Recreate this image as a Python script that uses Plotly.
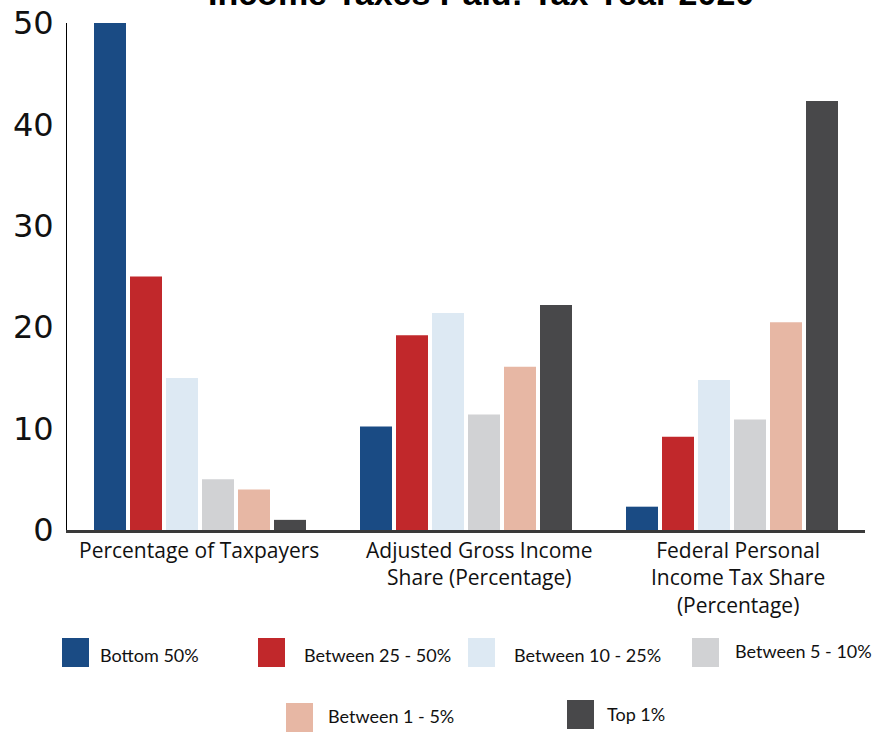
import plotly.graph_objects as go

categories = ["Percentage of Taxpayers", "Adjusted Gross Income<br>Share (Percentage)",
              "Federal Personal<br>Income Tax Share<br>(Percentage)"]
series_names = ["Bottom 50%", "Between 25 - 50%", "Between 10 - 25%",
                "Between 5 - 10%", "Between 1 - 5%", "Top 1%"]
bottom_50 = [50, 10.2, 2.3]
between_25_50 = [25, 19.2, 9.2]
between_10_25 = [15, 21.4, 14.8]
between_5_10 = [5, 11.4, 10.9]
between_1_5 = [4, 16.1, 20.5]
top_1 = [1, 22.2, 42.3]
series_values = [bottom_50, between_25_50, between_10_25, between_5_10, between_1_5, top_1]
colors = ["#1a4b84", "#c1282b", "#dde9f3", "#d1d2d4", "#e7b7a4", "#48484a"]
y_ticks = [0, 10, 20, 30, 40, 50]
title_text = "Income Taxes Paid: Tax Year 2020"

fig = go.Figure()
for name, vals, col in zip(series_names, series_values, colors):
    fig.add_trace(go.Bar(name=name, x=categories, y=vals, marker=dict(color=col, line=dict(width=0)),
                         showlegend=False))

# plot area geometry (pixels) for custom legend placement
W, H = 873, 735
L, R, T, B = 67, 8, 23, 205
pw, ph = W - L - R, H - T - B

def px(x):
    return (x - L) / pw

def py(y):
    return (H - B - y) / ph

# legend layout: (swatch_left, swatch_top, text_left, text_center_y)
legend_pos = [
    (62, 638, 98, 655),
    (258, 638, 302, 655),
    (468, 638, 512, 655),
    (692, 638, 733, 651),
    (286, 703, 326, 716),
    (567, 700, 605, 714),
]
shapes = []
annotations = []
for (sx, sy, tx, ty), name, col in zip(legend_pos, series_names, colors):
    shapes.append(dict(type="rect", xref="paper", yref="paper",
                       x0=px(sx), x1=px(sx + 27), y0=py(sy), y1=py(sy + 29),
                       fillcolor=col, line=dict(width=0)))
    annotations.append(dict(text=name, xref="paper", yref="paper", x=px(tx), y=py(ty),
                            xanchor="left", yanchor="middle", showarrow=False,
                            font=dict(family="Lato", size=18, color="#111111")))

# category labels (as annotations under each category, slight horizontal offsets)
label_shift = [-1, 13, 6]
for cat, sh in zip(categories, label_shift):
    annotations.append(dict(text=cat, xref="x", yref="paper", x=cat, y=0, xshift=sh, yshift=-4,
                            xanchor="center", yanchor="top", align="center", showarrow=False,
                            font=dict(family="Open Sans", size=21, color="#111111")))

annotations.append(dict(text="<b>" + title_text + "</b>", xref="paper", yref="paper",
                        x=px(481), y=py(-7), xanchor="center", yanchor="middle",
                        showarrow=False,
                        font=dict(family="Liberation Sans", size=34, color="#000000")))

fig.update_layout(
    width=W, height=H,
    margin=dict(l=L, r=R, t=T, b=B, pad=0, autoexpand=False),
    paper_bgcolor="white", plot_bgcolor="white",
    barmode="group", bargap=0.188, bargroupgap=0.111,
    showlegend=False,
    shapes=shapes, annotations=annotations,
    xaxis=dict(showline=True, linecolor="#3a3a3a", linewidth=3, ticks="", showgrid=False,
               zeroline=False, showticklabels=False, automargin=False),
    yaxis=dict(range=[0, 50], tickvals=y_ticks, showline=True, linecolor="#000000", linewidth=1,
               ticks="", showgrid=False, zeroline=False, ticklabelstandoff=6, automargin=False,
               tickfont=dict(family="DejaVu Sans", size=32, color="#111111")),
)

fig.write_html("out.html")
